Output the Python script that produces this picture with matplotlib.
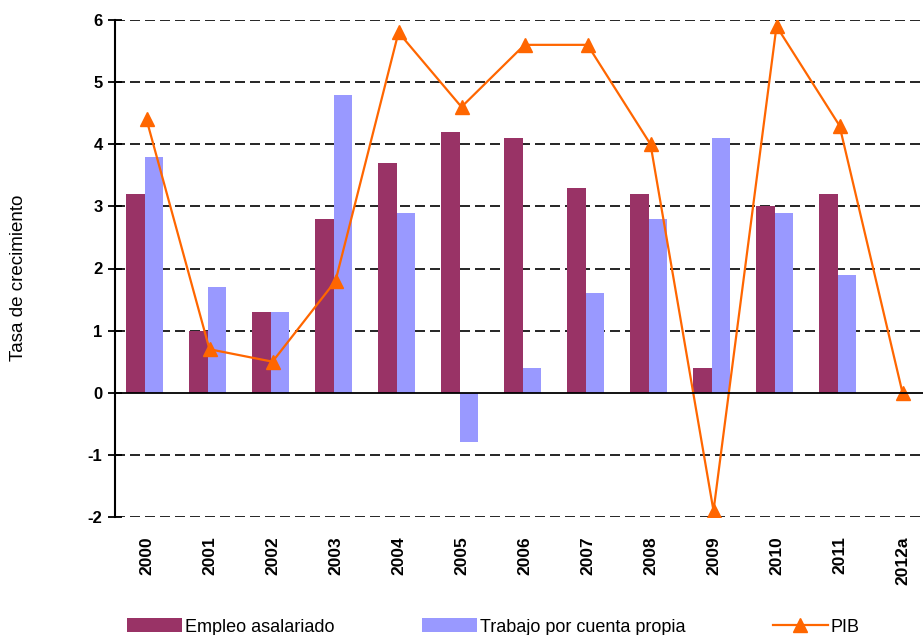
import numpy as np
import matplotlib
matplotlib.use("Agg")
import matplotlib.pyplot as plt
from matplotlib.patches import Patch
from matplotlib.lines import Line2D

years = ["2000", "2001", "2002", "2003", "2004", "2005", "2006",
         "2007", "2008", "2009", "2010", "2011", "2012a"]
empleo_asalariado = [3.2, 1.0, 1.3, 2.8, 3.7, 4.2, 4.1, 3.3, 3.2, 0.4, 3.0, 3.2, np.nan]
cuenta_propia = [3.8, 1.7, 1.3, 4.8, 2.9, -0.8, 0.4, 1.6, 2.8, 4.1, 2.9, 1.9, np.nan]
pib = [4.4, 0.7, 0.5, 1.8, 5.8, 4.6, 5.6, 5.6, 4.0, -1.9, 5.9, 4.3, 0.0]
yticks = [-2, -1, 0, 1, 2, 3, 4, 5, 6]

plt.rcParams['font.family'] = ['Liberation Sans', 'DejaVu Sans']

c_dark = "#993366"
c_light = "#9999FF"
c_line = "#FF6600"

fig = plt.figure(figsize=(9.23, 6.35), dpi=100)
W, H = 923, 635
left, right = 115, 934
top, bottom = 20, 517
ax = fig.add_axes([left / W, 1 - bottom / H, (right - left) / W, (bottom - top) / H])

x = np.arange(len(years))
bw = 0.29
shift = -0.03
ax.bar(x + shift - bw / 2, empleo_asalariado, bw, color=c_dark, zorder=3)
ax.bar(x + shift + bw / 2, cuenta_propia, bw, color=c_light, zorder=3)
ax.plot(x, pib, color=c_line, lw=1.6, marker='^', markersize=10, zorder=4)

ax.set_xlim(-0.5, len(years) - 0.5)
ax.set_ylim(-2, 6)
for v in yticks:
    if v != 0:
        ax.axhline(v, color='black', lw=1.2, ls=(0, (6, 3)), zorder=1)
ax.axhline(0, color='black', lw=1.3, zorder=5)

for s in ['top', 'right', 'bottom']:
    ax.spines[s].set_visible(False)
ax.spines['left'].set_linewidth(1.5)
ax.spines['left'].set_zorder(6)

ax.set_yticks(yticks)
ax.set_yticklabels([str(v) for v in yticks], fontsize=12, fontweight='bold')
ax.tick_params(axis='y', direction='inout', length=10, width=1.3, pad=4)
ax.set_xticks(x)
ax.set_xticklabels(years, rotation=90, fontsize=12.5, fontweight='bold', va='top')
ax.tick_params(axis='x', length=0, pad=14)

fig.text(19 / W, 1 - 278 / H, "Tasa de crecimiento", rotation=90,
         ha='center', va='center', fontsize=13.5)

handles = [Patch(facecolor=c_dark, edgecolor='none'),
           Patch(facecolor=c_light, edgecolor='none'),
           Line2D([], [], color=c_line, lw=1.6, marker='^', markersize=10)]
labels = ["Empleo asalariado", "Trabajo por cuenta propia", "PIB"]
fig.legend(handles, labels, loc='center left', bbox_to_anchor=(127 / W, 1 - 627 / H),
           ncol=3, frameon=False, fontsize=13, borderpad=0, borderaxespad=0,
           handlelength=3.05, handleheight=0.78, handletextpad=0.15, columnspacing=4.85)

fig.savefig("out.png", dpi=100)
